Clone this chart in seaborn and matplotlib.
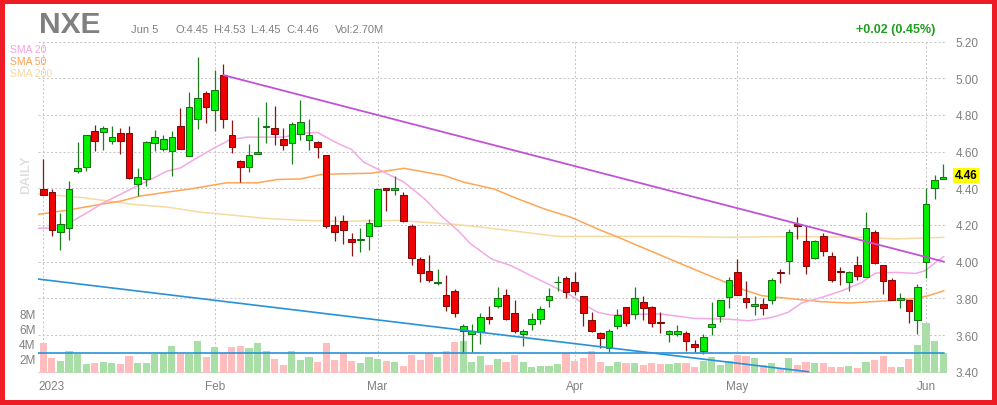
import matplotlib
matplotlib.use("Agg")
import matplotlib.pyplot as plt
from matplotlib.patches import Rectangle
from matplotlib.transforms import ScaledTranslation
import numpy as np
import seaborn as sns

# NXE daily bars, 2023-01-03 .. 2023-06-05 (one entry per trading day)
opens = [4.397, 4.379, 4.164, 4.186, 4.495, 4.516, 4.710, 4.706, 4.657, 4.701,
         4.701, 4.424, 4.448, 4.647, 4.614, 4.603, 4.739, 4.576, 4.777, 4.917,
         4.825, 5.017, 4.690, 4.551, 4.516, 4.589, 4.733, 4.728, 4.668, 4.647,
         4.695, 4.661, 4.654, 4.582, 4.202, 4.222, 4.124, 4.116, 4.142, 4.196,
         4.400, 4.389, 4.364, 4.196, 4.015, 3.949, 3.885, 3.818, 3.838, 3.624,
         3.604, 3.615, 3.696, 3.760, 3.818, 3.720, 3.604, 3.662, 3.687, 3.793,
         3.887, 3.909, 3.887, 3.811, 3.685, 3.611, 3.531, 3.651, 3.751, 3.713,
         3.778, 3.751, 3.669, 3.604, 3.604, 3.611, 3.551, 3.511, 3.642, 3.702,
         3.805, 3.942, 3.800, 3.756, 3.769, 3.793, 3.942, 4.005, 4.204, 4.111,
         4.018, 4.138, 4.029, 3.949, 3.891, 3.982, 3.915, 4.160, 3.982, 3.900,
         3.793, 3.791, 3.684, 3.996, 4.400, 4.450]
highs = [4.562, 4.394, 4.264, 4.442, 4.654, 4.690, 4.746, 4.740, 4.740, 4.728,
         4.740, 4.511, 4.659, 4.719, 4.692, 4.713, 4.836, 4.923, 5.117, 4.930,
         5.045, 5.077, 4.773, 4.556, 4.643, 4.791, 4.870, 4.849, 4.728, 4.760,
         4.881, 4.777, 4.657, 4.582, 4.249, 4.255, 4.155, 4.184, 4.233, 4.396,
         4.400, 4.469, 4.378, 4.204, 4.024, 4.036, 3.960, 3.927, 3.851, 3.660,
         3.660, 3.720, 3.756, 3.862, 3.851, 3.791, 3.633, 3.720, 3.760, 3.855,
         3.924, 3.924, 3.942, 3.811, 3.724, 3.618, 3.633, 3.742, 3.751, 3.862,
         3.815, 3.760, 3.724, 3.629, 3.655, 3.622, 3.575, 3.605, 3.782, 3.791,
         3.915, 4.015, 3.896, 3.815, 3.800, 3.911, 3.960, 4.178, 4.242, 4.200,
         4.120, 4.155, 4.051, 3.969, 3.949, 4.029, 4.273, 4.171, 3.982, 3.909,
         3.829, 3.791, 3.878, 4.400, 4.473, 4.530]
lows = [4.365, 4.141, 4.065, 4.119, 4.482, 4.493, 4.601, 4.607, 4.641, 4.587,
        4.451, 4.358, 4.412, 4.601, 4.601, 4.466, 4.614, 4.576, 4.722, 4.758,
        4.710, 4.731, 4.592, 4.433, 4.488, 4.589, 4.647, 4.636, 4.610, 4.531,
        4.665, 4.610, 4.563, 4.182, 4.112, 4.098, 4.033, 4.055, 4.065, 4.196,
        4.276, 4.364, 4.215, 3.982, 3.891, 3.891, 3.873, 3.733, 3.696, 3.505,
        3.509, 3.551, 3.660, 3.749, 3.684, 3.611, 3.542, 3.629, 3.660, 3.753,
        3.842, 3.802, 3.820, 3.651, 3.618, 3.527, 3.509, 3.633, 3.651, 3.687,
        3.684, 3.642, 3.611, 3.564, 3.593, 3.515, 3.509, 3.496, 3.600, 3.673,
        3.745, 3.820, 3.745, 3.711, 3.711, 3.769, 3.884, 3.933, 4.124, 3.933,
        4.015, 4.033, 3.891, 3.873, 3.842, 3.902, 3.915, 3.985, 3.825, 3.793,
        3.745, 3.664, 3.605, 3.913, 4.342, 4.450]
closes = [4.365, 4.173, 4.208, 4.397, 4.511, 4.690, 4.657, 4.726, 4.679, 4.657,
          4.455, 4.462, 4.654, 4.679, 4.668, 4.679, 4.614, 4.842, 4.890, 4.845,
          4.936, 4.777, 4.625, 4.516, 4.582, 4.600, 4.739, 4.695, 4.636, 4.749,
          4.760, 4.690, 4.625, 4.195, 4.164, 4.175, 4.105, 4.124, 4.211, 4.396,
          4.389, 4.400, 4.222, 4.018, 3.936, 3.902, 3.891, 3.756, 3.722, 3.647,
          3.624, 3.696, 3.687, 3.800, 3.687, 3.624, 3.622, 3.687, 3.742, 3.811,
          3.891, 3.833, 3.842, 3.722, 3.624, 3.582, 3.625, 3.709, 3.664, 3.800,
          3.745, 3.664, 3.664, 3.622, 3.622, 3.569, 3.533, 3.587, 3.660, 3.791,
          3.900, 3.820, 3.782, 3.769, 3.745, 3.900, 3.936, 4.160, 4.196, 3.975,
          4.113, 4.056, 3.902, 3.942, 3.942, 3.924, 4.182, 3.993, 3.893, 3.793,
          3.800, 3.733, 3.860, 4.313, 4.445, 4.460]
volume_m = [4.04, 2.00, 1.60, 2.93, 2.49, 1.20, 1.33, 1.47, 1.33, 1.20,
            2.27, 1.33, 1.33, 2.49, 2.67, 3.60, 2.49, 2.49, 4.27, 2.13,
            3.47, 2.67, 3.47, 3.60, 3.33, 4.00, 2.93, 1.87, 1.07, 2.93,
            1.73, 2.13, 1.47, 4.00, 1.73, 2.67, 1.60, 1.33, 2.13, 1.87,
            1.60, 1.47, 0.93, 2.40, 1.73, 2.67, 2.13, 2.93, 4.13, 4.27,
            1.47, 2.27, 1.07, 1.87, 1.47, 2.40, 1.47, 0.80, 0.93, 0.93,
            1.20, 2.67, 1.60, 2.00, 2.93, 1.47, 0.93, 1.47, 1.33, 1.33,
            1.07, 1.33, 1.20, 1.20, 1.33, 1.33, 0.80, 1.60, 2.13, 1.07,
            1.60, 2.40, 2.27, 2.00, 1.07, 1.33, 0.67, 2.00, 1.07, 1.47,
            1.33, 1.33, 0.80, 0.80, 0.93, 0.67, 1.47, 1.73, 2.27, 0.80,
            0.80, 1.87, 3.73, 6.67, 4.27, 2.70]

month_idx = [0, 20, 39, 62, 81, 103]
month_labels = ["2023", "Feb", "Mar", "Apr", "May", "Jun"]
price_ticks = [3.40, 3.60, 3.80, 4.00, 4.20, 4.40, 4.60, 4.80, 5.00, 5.20]
vol_ticks = [2, 4, 6, 8]

# moving averages at bar positions
sma20_x = [-0.6, 1.9, 3.1, 5.1, 7.0, 9.0, 10.9, 12.9, 14.4, 16.0, 17.9, 19.9, 21.8,
           23.8, 26.1, 28.1, 30.0, 32.0, 33.9, 34.7, 35.9, 37.4, 39.8, 42.1, 44.5,
           46.4, 48.4, 49.9, 52.3, 54.6, 56.9, 59.3, 61.6, 63.2, 64.7, 66.3, 68.6,
           71.0, 72.1, 76.0, 79.9, 82.3, 85.0, 86.9, 88.5, 90.8, 93.2, 95.5, 97.1,
           99.4, 101.8, 102.9, 104.1, 105.1]
sma20_y = [4.182, 4.186, 4.213, 4.267, 4.321, 4.367, 4.412, 4.457, 4.493, 4.511,
           4.565, 4.619, 4.665, 4.679, 4.679, 4.679, 4.700, 4.704, 4.656, 4.637,
           4.614, 4.542, 4.487, 4.433, 4.342, 4.251, 4.169, 4.096, 4.015, 3.978,
           3.924, 3.869, 3.815, 3.764, 3.724, 3.709, 3.711, 3.716, 3.715, 3.691,
           3.687, 3.678, 3.696, 3.724, 3.775, 3.805, 3.842, 3.887, 3.938, 3.942,
           3.936, 3.951, 3.996, 4.029]
sma50_x = [-0.6, 2.7, 6.6, 9.0, 11.3, 14.4, 16.8, 19.1, 21.4, 25.0, 27.3, 30.0,
           32.4, 34.7, 38.2, 42.1, 46.8, 49.1, 52.6, 55.4, 58.5, 61.6, 64.7, 67.1,
           69.4, 71.7, 74.5, 76.8, 79.2, 81.5, 83.8, 86.9, 90.8, 94.0, 98.6, 101.8,
           103.3, 105.1]
sma50_y = [4.258, 4.280, 4.312, 4.330, 4.358, 4.379, 4.394, 4.412, 4.430, 4.430,
           4.448, 4.451, 4.475, 4.479, 4.482, 4.509, 4.469, 4.433, 4.396, 4.342,
           4.287, 4.242, 4.178, 4.133, 4.087, 4.042, 3.987, 3.942, 3.896, 3.851,
           3.815, 3.800, 3.782, 3.775, 3.787, 3.800, 3.815, 3.842]
sma200_x = [-0.6, 0.0, 4.7, 10.5, 14.4, 18.3, 22.2, 26.1, 30.0, 34.7, 41.3, 48.4,
            53.0, 60.0, 73.3, 79.9, 87.7, 95.5, 99.4, 105.1]
sma200_y = [4.370, 4.367, 4.349, 4.312, 4.298, 4.270, 4.253, 4.235, 4.226, 4.220,
            4.225, 4.202, 4.178, 4.138, 4.138, 4.133, 4.138, 4.133, 4.124, 4.133]

# drawn trend lines
resist_x = [21.0, 105.1]
resist_y = [5.017, 4.000]
support_x = [-0.7, 89.3]
support_y = [3.906, 3.400]
flat_x = [-0.7, 105.1]
flat_y = [3.50, 3.50]

sns.set_theme(style="white")
plt.rcParams["font.family"] = ["Liberation Sans", "DejaVu Sans"]

W, H = 997, 406
fig = plt.figure(figsize=(W / 100, H / 100), dpi=100)
fig.patch.set_facecolor("#ee1c24")
fig.patches.append(Rectangle((5 / W, 5 / H), (W - 10) / W, (H - 10) / H,
                             transform=fig.transFigure, facecolor="white",
                             edgecolor="none", zorder=0))


def fx(x):
    return x / W


def fy(y):
    return 1 - y / H


left, right, top, bottom = 37.5, 947, 41.7, 374
rect = [fx(left), fy(bottom), (right - left) / W, (bottom - top) / H]

ax_grid = fig.add_axes(rect)
ax_vol = fig.add_axes(rect, sharex=ax_grid)
ax = fig.add_axes(rect, sharex=ax_grid, sharey=ax_grid)
ax_grid.set_zorder(1)
ax_vol.set_zorder(2)
ax.set_zorder(3)
for a in (ax_grid, ax_vol, ax):
    a.patch.set_alpha(0)
    for s in a.spines.values():
        s.set_visible(False)

n = len(closes)
idx = np.arange(n)
o = np.array(opens)
c = np.array(closes)
up = c >= o

# 4.00 sits at pixel 262.7, 183.5 px per dollar
px_per_dollar = 183.5
ylo = 4.0 - (bottom - 262.7) / px_per_dollar
yhi = 4.0 + (262.7 - top) / px_per_dollar
ax.set_xlim(-0.68, 105.45)
ax.set_ylim(ylo, yhi)

# grid
ax.set_xticks(month_idx, month_labels)
ax.set_yticks(price_ticks, [f"{p:.2f}" for p in price_ticks])
ax_grid.grid(True, color="#c8c8c8", lw=0.75, linestyle=(0, (2, 2)))
ax_grid.tick_params(labelbottom=False, labelleft=False, length=0)

# volume
ax_vol.set_ylim(0, (bottom - top) / 7.45)
vol_col = np.where(up, "#a9dfa6", "#ffbdbd")
ax_vol.bar(idx, volume_m, width=0.84, color=vol_col, edgecolor="none")
ax_vol.set_yticks(vol_ticks, [f"{v}M" for v in vol_ticks])
ax_vol.tick_params(axis="y", length=0, pad=1.5, labelsize=8.5, labelcolor="#808080")
ax_vol.tick_params(axis="x", labelbottom=False, length=0)

# moving averages
sns.lineplot(x=sma200_x, y=sma200_y, ax=ax, color="#f5dba2", lw=1.1, zorder=2)
sns.lineplot(x=sma50_x, y=sma50_y, ax=ax, color="#ffa556", lw=1.1, zorder=2)
sns.lineplot(x=sma20_x, y=sma20_y, ax=ax, color="#f3a9e4", lw=1.1, zorder=2)

# candles
wick_col = np.where(up, "#1f7d1f", "#8a1515")
ax.vlines(idx, lows, highs, colors=wick_col, lw=0.9, zorder=3)
body_lo = np.minimum(o, c)
body_h = np.maximum(np.abs(c - o), 0.004)
ax.bar(idx, body_h, bottom=body_lo, width=0.78,
       color=np.where(up, "#00f000", "#f00000"),
       edgecolor=np.where(up, "#137313", "#7a0c0c"), linewidth=0.75, zorder=4)

# trend lines
sns.lineplot(x=resist_x, y=resist_y, ax=ax, color="#c052d6", lw=1.3, zorder=5)
sns.lineplot(x=support_x, y=support_y, ax=ax, color="#2892d9", lw=1.2, zorder=5)
sns.lineplot(x=flat_x, y=flat_y, ax=ax, color="#2892d9", lw=1.2, zorder=5)
ax.set_xlim(-0.68, 105.45)
ax.set_ylim(ylo, yhi)

ax.yaxis.tick_right()
ax.tick_params(axis="y", length=0, pad=6, labelsize=8.5, labelcolor="#808080",
               labelleft=False, labelright=True)
ax.tick_params(axis="x", length=0, pad=5, labelsize=8.5, labelcolor="#808080")
first = ax.get_xticklabels()[0]
first.set_ha("left")
first.set_transform(first.get_transform() +
                    ScaledTranslation(-5 / 100, 0, fig.dpi_scale_trans))
ax.set_xlabel("")
ax.set_ylabel("")

# last price flag
ax.annotate(f"{closes[-1]:.2f}", xy=(1, closes[-1]), xycoords=("axes fraction", "data"),
            xytext=(5.5, 1.5), textcoords="offset points", ha="left", va="center",
            fontsize=8.5, fontweight="bold", color="black",
            bbox=dict(boxstyle="square,pad=0.12", fc="#ffff00", ec="none"))

# header
grey = "#808080"
fig.text(fx(39), fy(33.3), "NXE", fontsize=21.5, fontweight="bold", color=grey, va="baseline")
fig.text(fx(131), fy(33), "Jun 5", fontsize=8, color=grey, va="baseline")
for x, s in [(175, "O:4.45"), (212.7, "H:4.53"), (250, "L:4.45"), (286, "C:4.46"),
             (335, "Vol:2.70M")]:
    fig.text(fx(x), fy(33), s, fontsize=8, color=grey, va="baseline")
fig.text(fx(935), fy(33), "+0.02 (0.45%)", fontsize=9, fontweight="bold",
         color="#1f9e1f", ha="right", va="baseline")

fig.text(fx(10), fy(53), "SMA 20", fontsize=7.5, color="#f3a3de", va="baseline")
fig.text(fx(10), fy(65), "SMA 50", fontsize=7.5, color="#ffa04e", va="baseline")
fig.text(fx(10), fy(77), "SMA 200", fontsize=7.5, color="#f4d9a4", va="baseline")
fig.text(fx(26.5), fy(175), "DAILY", fontsize=9.5, fontweight="bold", color="#e0e0e0",
         rotation=90, ha="center", va="center")

fig.savefig("out.png", dpi=100, facecolor=fig.get_facecolor())
